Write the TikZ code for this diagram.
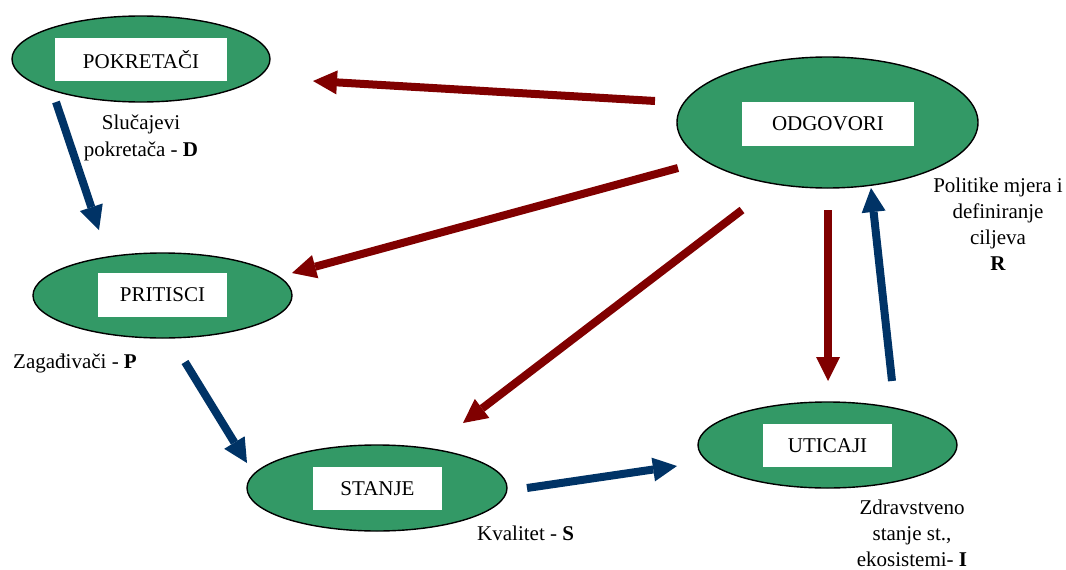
\documentclass[tikz,border=0pt]{standalone}
\usepackage{fontspec}
\setmainfont{Liberation Serif}
\usetikzlibrary{arrows.meta,shapes.geometric}
\definecolor{grn}{HTML}{339966}
\definecolor{dred}{HTML}{800000}
\definecolor{dblue}{HTML}{003366}
\begin{document}
\begin{tikzpicture}[x=1pt,y=-1pt,
  stage/.style={ellipse, draw=black, line width=1.4pt, fill=grn, inner sep=0pt},
  tag/.style={fill=white, inner sep=0pt, font=\fontsize{21}{26}\selectfont},
  note/.style={font=\fontsize{21}{26}\selectfont, inner sep=0pt, align=center},
  redarr/.style={draw=dred, line width=8pt, -{Triangle[width=24pt,length=24pt,line width'=0pt]}},
  bluearr/.style={draw=dblue, line width=8pt, -{Triangle[width=24pt,length=24pt,line width'=0pt]}}]
\useasboundingbox (0,0) rectangle (1066,570);
% stages
\node[stage, minimum width=258pt, minimum height=86pt] (pok) at (141,59) {};
\node[tag, minimum width=172pt, minimum height=43pt] (pokt) at (141,59.5) {POKRETAČI};
\node[stage, minimum width=301pt, minimum height=131pt] (odg) at (827.5,122.5) {};
\node[tag, minimum width=172pt, minimum height=44pt] (odgt) at (828,124) {ODGOVORI};
\node[stage, minimum width=259pt, minimum height=85pt] (pri) at (162.5,295.5) {};
\node[tag, minimum width=129pt, minimum height=44pt] (prit) at (162.5,295) {PRITISCI};
\node[stage, minimum width=260pt, minimum height=86pt] (sta) at (377,488) {};
\node[tag, minimum width=129pt, minimum height=43pt] (stat) at (377.5,488.5) {STANJE};
\node[stage, minimum width=259pt, minimum height=86pt] (uti) at (827.5,445) {};
\node[tag, minimum width=129pt, minimum height=43pt] (utit) at (827.5,445.5) {UTICAJI};
% labels
\node[note, anchor=north, font=\fontsize{21}{27}\selectfont] (labD) at (141,115) {Slučajevi\\pokretača - \textbf{D}};
\node[note, anchor=base west] (labP) at (13,368) {Zagađivači - \textbf{P}};
\node[note, anchor=base west] (labS) at (477,540) {Kvalitet - \textbf{S}};
\node[note, anchor=north] (labI) at (912,500) {Zdravstveno\\stanje st.,\\ekosistemi- \textbf{I}};
\node[note, anchor=north] (labR) at (998,178) {Politike mjera i\\definiranje\\ciljeva\\\textbf{R}};
% connector ends
\coordinate (a1) at (655,101); \coordinate (a2) at (313,81);
\coordinate (b1) at (678,168); \coordinate (b2) at (292,273);
\coordinate (c1) at (742,210); \coordinate (c2) at (463,423);
\coordinate (d1) at (828,210); \coordinate (d2) at (828,381);
\coordinate (e1) at (56,102);  \coordinate (e2) at (99,230);
\coordinate (f1) at (185,362); \coordinate (f2) at (247,463);
\coordinate (g1) at (527,488); \coordinate (g2) at (677,466);
\coordinate (h1) at (892,381); \coordinate (h2) at (871,188);
% connectors
\draw[redarr] (a1) -- (a2);
\draw[redarr] (b1) -- (b2);
\draw[redarr] (c1) -- (c2);
\draw[redarr] (d1) -- (d2);
\draw[bluearr] (e1) -- (e2);
\draw[bluearr] (f1) -- (f2);
\draw[bluearr] (g1) -- (g2);
\draw[bluearr] (h1) -- (h2);
\end{tikzpicture}
\end{document}
